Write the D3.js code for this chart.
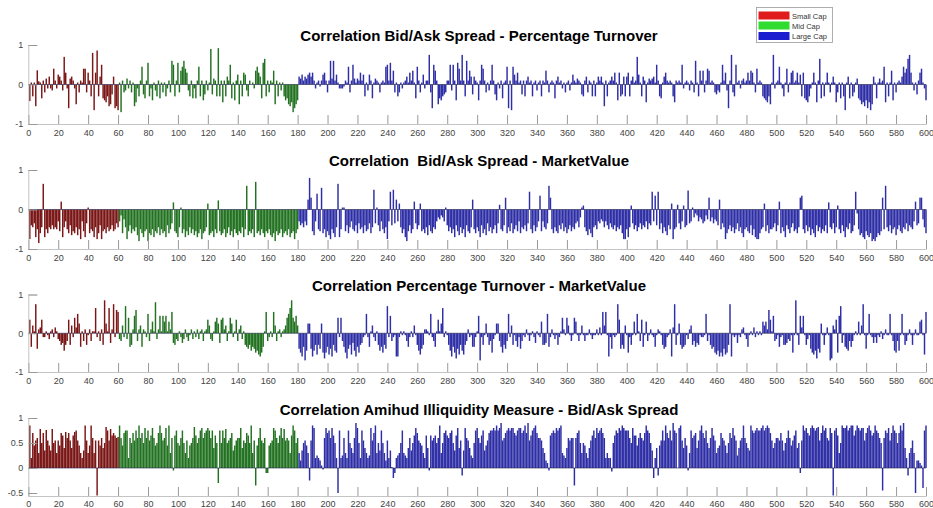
<!DOCTYPE html>
<html><head><meta charset="utf-8">
<script src="https://cdn.jsdelivr.net/npm/d3@7"></script>
<style>body{margin:0;background:#fff}svg{display:block}</style>
</head><body><svg id="c" width="933" height="508"></svg>
<script>
const groups = ["Small Cap","Mid Cap","Large Cap"];
const groupEnds = [60,180,600];
const xTicks = [0,20,40,60,80,100,120,140,160,180,200,220,240,260,280,300,320,340,360,380,400,420,440,460,480,500,520,540,560,580,600];
const titles = ["Correlation Bid/Ask Spread - Percentage Turnover","Correlation  Bid/Ask Spread - MarketValue","Correlation Percentage Turnover - MarketValue","Correlation Amihud Illiquidity Measure - Bid/Ask Spread"];
const yTicksA = [-1,0,1];
const yTicksB = [-0.5,0,0.5,1];

const bidAskTurnover = [
-.42,.05,-.3,.05,-.55,.36,.08,.05,-.35,.1,-.2,.15,-.1,.2,-.1,-.15,.4,.1,-.1,.25,
.2,.1,-.15,.7,.3,-.1,-.6,.15,.2,.1,-.1,-.5,.05,-.2,.1,.05,.4,.4,-.2,.3,
.1,-.3,.8,-.65,.3,.86,-.3,.2,.5,-.35,-.4,-.45,-.3,-.55,-.5,-.25,.2,-.6,-.55,-.65,
.05,-.7,.1,-.2,-.15,.15,-.1,.1,-.2,.05,-.55,-.45,-.1,-.3,.1,.45,-.25,-.35,.1,.55,
-.3,-.1,-.4,.05,-.15,-.3,.1,-.35,.05,-.2,.05,-.3,-.1,.1,-.2,.6,.5,-.3,.1,.55,
-.2,.35,.45,.6,.4,.3,-.15,-.3,.1,-.35,-.1,-.35,.1,.45,-.3,.1,-.4,-.25,.1,-.15,
.05,.9,-.25,.15,.1,-.3,.92,-.3,.1,-.45,.1,-.3,.2,.1,.5,-.35,.05,-.4,.1,.25,
-.5,.1,-.3,.3,.25,-.15,-.3,.1,0,.05,-.1,.35,.45,.3,.2,-.35,.55,.65,-.3,.1,
-.2,.1,.05,.35,-.5,.1,-.3,.05,-.15,.05,-.3,-.4,-.35,-.5,-.55,-.45,-.7,-.6,-.5,-.4,
.2,.15,.25,.1,.2,.15,.25,.3,.2,.3,.1,-.1,.05,.1,-.05,.1,.25,.3,.1,-.2,
.1,.6,.15,.6,.1,.25,.05,-.1,-.1,-.1,-.05,.1,.05,.45,-.2,.1,.5,.15,.05,.15,
.1,.3,.1,.25,-.3,.05,-.15,.25,.1,-.35,.05,.15,.1,.05,-.2,.05,.1,.05,.45,.5,
.1,.55,.1,.35,-.2,.05,-.3,-.2,.05,-.1,.05,.1,.2,.05,.3,.1,.35,.05,-.35,.45,
.1,-.2,.05,.25,-.1,.1,.1,.75,-.2,-.6,.5,.35,.1,-.5,-.35,-.4,-.3,-.25,-.2,.1,
.1,.5,-.15,.5,.1,-.4,.55,.4,.1,.75,.1,-.3,.6,.1,.35,.2,-.25,.2,.1,.05,
-.4,.1,.5,.4,.1,-.2,.05,-.15,.1,.5,.1,-.25,-.4,.05,-.1,.1,-.35,.05,.1,.45,
-.6,.1,-.65,.45,.25,.1,.3,.05,.1,-.25,.1,-.3,.1,.2,.05,.1,-.3,.05,.1,-.15,
.05,.1,-.3,.1,.05,.35,.1,-.2,.05,.1,.05,-.35,.1,.2,.05,.1,-.1,.05,-.2,.05,
.1,-.15,.05,.25,.1,.05,.15,.1,.05,-.25,-.3,.1,.2,-.2,.1,.05,-.3,.1,-.3,.05,
.2,.1,.2,.05,-.55,.1,-.3,.05,.1,.2,.1,.3,.05,-.4,.3,-.3,-.25,.2,-.3,.2,
.3,-.3,.1,.2,.05,.1,.7,.25,.05,-.3,.2,.1,-.45,.05,.15,.1,.15,.2,.05,.5,
.1,-.3,-.35,.05,.2,.3,.1,.05,.1,.05,-.3,-.45,.1,.05,.1,.05,.5,-.1,.05,.1,
.05,-.15,.1,.05,-.2,.6,.05,-.3,.35,.1,.35,-.2,.1,.4,.35,.05,.1,.05,-.2,-.25,
-.15,-.2,.05,.5,.1,.3,-.15,-.6,.1,.75,-.2,-.3,.5,.05,.1,-.1,.1,.15,.05,.1,
.3,.1,.35,.3,.05,-.2,.4,.05,.1,.05,-.3,-.35,-.4,-.45,-.3,-.5,.05,.75,-.1,.05,
.1,.45,.05,-.1,-.3,.05,.4,-.2,.05,.3,.35,.05,.1,.3,.05,.25,-.3,.3,-.35,-.4,
-.45,-.3,-.1,.05,.3,.05,-.45,.1,.65,-.35,.05,-.3,.05,.3,.05,-.2,.05,.2,.05,-.45,
-.2,.05,-.35,.05,-.3,-.65,.05,.2,-.35,.05,-.3,-.2,.05,.15,-.35,-.4,-.5,-.45,-.55,-.4,
-.6,-.45,-.65,-.5,.2,.05,-.35,.05,.15,.05,.1,.45,-.45,.05,-.3,.05,.35,-.4,.05,-.2,
.05,.1,.05,.2,.45,.3,.4,.65,.75,.3,.05,-.15,.05,-.25,.1,.3,.4,.05,-.1,-.4];

const bidAskMarketValue = [
-.75,-.4,-.45,-.35,-.7,-.5,-.85,-.6,-.45,.65,-.7,-.5,-.6,-.45,-.5,-.4,-.5,-.45,-.5,-.3,
-.55,.2,-.7,-.45,-.3,-.5,-.6,-.4,-.65,-.55,-.6,-.45,-.65,-.5,-.75,-.3,-.55,-.7,-.35,.05,
-.6,-.5,-.55,-.7,-.45,-.75,-.6,-.4,-.75,-.55,-.5,-.6,-.45,-.55,-.5,-.4,-.55,-.5,-.35,-.45,
-.3,-.15,-.6,-.25,-.45,-.75,-.55,-.4,-.6,-.5,-.55,-.45,-.65,-.8,-.5,-.6,-.7,-.55,-.5,-.8,
-.6,-.65,-.5,-.7,-.55,-.6,-.45,-.65,-.5,-.6,-.55,-.7,-.4,-.6,-.5,-.35,.18,-.55,-.6,-.7,
-.45,.05,-.6,-.5,-.7,-.55,-.65,-.45,-.6,-.5,-.65,-.55,-.7,-.6,-.5,-.75,-.6,-.55,-.45,.15,
-.65,-.6,-.55,-.7,-.5,-.6,.23,-.55,-.65,-.6,-.5,-.7,-.6,-.45,-.65,-.55,-.7,-.5,-.6,-.65,
-.55,-.6,-.45,-.7,-.5,.6,-.65,-.55,-.6,-.5,-.7,.7,-.6,-.55,-.65,-.5,-.6,-.7,-.55,-.6,
-.5,-.65,-.7,-.6,-.8,-.55,-.65,-.6,-.5,-.7,-.6,-.55,-.65,-.5,-.7,-.6,-.55,-.75,-.6,-.5,
-.3,-.4,-.35,-.45,-.3,-.4,.25,.8,.3,-.55,-.65,-.3,.4,-.5,-.55,.55,-.6,-.5,-.7,-.55,
-.65,-.75,-.5,-.6,-.7,-.45,.65,-.7,-.5,.05,.05,-.55,-.4,-.6,-.45,-.3,-.5,-.55,-.4,-.6,
-.35,-.5,-.45,-.6,-.4,-.55,-.5,-.35,-.6,-.45,.5,-.35,.05,-.4,-.55,-.3,-.5,-.6,-.45,-.75,
-.3,.45,-.4,.5,-.35,.25,-.3,.15,-.45,-.6,-.5,-.7,-.8,-.55,-.4,-.6,-.5,.2,-.35,-.5,
-.4,.15,-.55,-.5,-.6,-.45,-.65,-.4,-.55,-.6,-.45,-.5,-.3,-.2,-.25,-.15,-.2,-.3,.05,-.4,
-.55,-.45,-.6,-.5,-.7,-.4,-.55,-.65,-.45,-.6,-.5,-.7,-.4,-.55,-.6,-.45,.25,-.5,-.6,-.45,
-.55,-.7,-.4,-.6,-.5,-.65,-.35,-.55,-.45,-.6,-.5,-.4,-.6,-.35,.12,-.5,-.55,-.4,.3,-.6,
-.45,-.55,-.35,-.6,-.5,-.4,-.55,-.3,-.6,-.45,-.5,-.4,-.55,-.35,.45,-.5,-.6,-.4,-.55,-.45,
-.3,.35,-.55,-.3,-.45,-.5,-.35,.6,.3,-.5,-.6,-.45,-.55,-.6,-.4,-.5,-.35,-.55,-.45,-.6,
-.5,-.4,-.55,-.45,-.5,-.35,-.3,-.45,-.2,.05,.1,-.45,-.55,-.65,-.5,-.6,-.7,-.45,-.4,-.5,
-.3,-.35,-.25,-.3,-.45,-.3,-.4,-.5,-.35,-.45,-.5,-.4,-.55,-.45,-.5,-.4,-.6,-.75,-.75,-.5,
-.7,-.45,.1,-.35,-.5,-.4,-.55,-.45,-.35,-.5,-.4,-.45,-.3,-.5,-.35,-.4,.45,-.3,.35,-.4,
.45,-.5,-.35,-.6,-.45,-.55,-.65,-.4,-.5,.15,-.75,-.5,-.45,.12,-.35,-.5,-.3,.1,-.45,-.4,
.48,-.35,-.3,.05,-.2,-.1,-.15,-.3,-.2,-.25,-.35,-.3,-.15,-.25,.3,-.3,-.2,-.35,-.25,-.3,
-.4,.25,-.5,-.35,-.45,-.75,-.6,-.5,-.4,-.55,-.45,-.6,-.5,-.35,-.55,-.45,-.6,-.7,-.5,-.45,
-.55,-.6,-.4,-.65,-.5,-.7,-.75,-.75,-.6,-.5,-.45,.15,-.55,-.4,-.6,-.5,-.5,-.45,-.35,-.55,
-.4,.2,-.6,-.45,-.55,-.7,-.4,-.5,-.6,-.45,-.35,-.55,-.5,-.6,-.45,.3,.35,-.5,-.6,-.4,
-.55,-.45,-.65,-.5,-.6,-.7,-.4,-.55,-.45,-.6,-.5,-.55,-.4,-.6,.18,-.45,-.5,-.35,-.6,-.45,
.1,-.5,-.6,-.4,-.55,-.7,-.45,-.5,-.35,-.6,-.55,-.4,.45,-.1,-.5,-.65,-.6,-.7,-.75,-.55,
-.65,-.7,-.6,-.8,-.75,-.8,-.7,-.6,-.65,-.55,.3,-.5,.6,-.45,-.55,-.4,-.6,-.5,-.45,-.65,
-.5,-.4,-.55,-.6,-.45,-.5,-.35,-.55,-.4,-.45,-.5,-.3,.2,-.4,-.35,.3,.3,-.25,-.45,-.6];

const turnoverMarketValue = [
.35,-.35,.2,.05,.75,-.4,.1,.15,.35,-.1,-.1,.05,-.05,-.15,.05,.1,-.1,.15,.05,-.15,
-.2,-.3,-.25,-.45,-.3,-.2,.35,-.3,.2,-.1,.4,.15,.5,.25,-.35,.05,-.2,.1,-.3,-.05,
.1,-.2,.05,.05,.65,-.1,.05,-.2,.1,-.3,.85,.25,.05,.65,-.25,.1,.75,-.1,.6,.55,
-.15,-.2,.2,-.1,.7,-.15,.4,-.35,-.3,.1,.45,.6,-.2,.1,.2,-.35,.1,.05,-.1,.5,
-.2,.1,.3,.05,.8,-.15,.1,.45,.05,.45,.3,.45,.05,.3,.1,.55,-.25,-.3,-.15,-.2,
.05,-.1,-.25,-.15,.1,-.1,-.2,-.05,.1,-.15,.05,-.1,.1,-.15,.05,.1,-.2,.05,.1,.35,
.2,-.15,-.2,.05,.3,.4,.25,-.25,.35,.4,.1,.2,-.2,.05,.4,.25,-.1,.05,.35,-.2,
.1,.2,-.15,.05,-.3,-.35,-.4,-.3,-.45,-.35,-.4,-.5,-.45,-.55,-.6,-.5,-.35,.05,.55,-.2,
-.1,.05,-.1,.55,.2,-.2,.05,.1,-.1,.05,.1,.2,.4,.5,.65,.85,.4,.3,.45,.2,
-.4,-.5,-.6,-.35,-.7,-.45,.25,.25,-.4,-.6,-.45,-.3,-.55,-.3,-.4,.25,-.5,-.65,-.5,-.35,
-.55,-.4,-.6,-.3,-.45,-.5,.4,-.1,.4,-.2,-.35,-.5,-.65,-.4,-.3,-.55,-.25,-.45,-.6,-.35,
-.5,-.3,-.25,-.1,-.05,.5,-.1,-.35,.05,.2,-.1,-.2,.05,-.3,-.45,-.35,-.5,-.3,-.4,.7,
-.1,.45,-.2,-.1,-.05,-.6,-.6,-.1,.05,-.05,.05,-.05,-.2,-.35,-.1,.05,-.1,.2,-.05,-.3,
-.45,-.55,-.4,-.3,.1,.1,.05,-.05,.5,-.1,-.2,-.35,.05,.35,.05,.25,.65,-.1,.05,-.05,
-.3,-.45,-.6,-.35,-.5,-.65,-.4,-.55,-.3,-.45,-.55,-.3,-.2,.1,-.1,-.05,-.35,-.35,-.1,.05,
.45,-.7,-.1,-.3,-.05,.25,-.1,-.3,-.2,-.5,-.15,-.05,.25,.25,-.2,-.35,-.5,-.3,-.4,-.2,
.5,-.1,.2,-.3,-.05,-.2,-.35,-.1,-.4,-.2,-.05,-.1,.1,-.05,-.2,-.05,.05,-.1,-.25,.05,
-.05,-.1,.3,-.3,-.3,-.25,.5,-.35,-.1,.1,-.05,-.15,-.05,-.3,-.1,.05,.4,.1,-.05,.4,
.2,-.05,-.2,-.05,.4,.3,-.05,-.2,-.05,.2,-.05,-.2,-.05,-.05,.1,-.05,-.15,-.05,-.05,.1,
-.05,.15,-.05,.55,.2,.55,-.05,-.6,-.1,-.4,-.05,-.1,-.05,.75,.35,-.4,-.3,-.4,.2,-.05,
-.5,-.1,-.3,-.05,.3,-.05,.5,.05,-.2,.35,-.35,-.05,.3,-.2,-.05,.1,-.05,-.1,-.35,-.05,
.1,.05,-.05,-.3,-.4,-.35,-.1,-.05,.1,-.6,.15,.75,-.3,-.05,.25,-.3,-.4,-.35,-.3,-.05,
-.15,.1,.2,-.3,-.2,-.35,-.25,-.3,-.05,-.1,-.1,-.05,.5,-.2,-.05,-.3,-.4,-.35,-.5,-.55,
-.45,-.6,-.5,-.6,-.4,-.55,-.5,-.3,.75,-.6,-.05,-.1,-.05,-.25,-.05,-.1,.1,.15,-.05,-.15,
-.35,-.05,.05,-.05,.15,-.1,.05,-.05,.05,-.05,.3,.2,.3,.1,.6,.35,.05,.45,-.2,-.15,
-.05,-.35,-.1,-.05,-.3,-.3,-.25,-.15,-.2,-.05,-.5,-.05,.85,-.05,-.3,.45,.15,.45,-.05,-.3,
-.15,-.05,-.4,-.5,-.55,-.45,-.65,-.4,-.5,.25,-.05,-.3,-.05,.15,-.05,-.7,-.65,.2,.1,.35,
-.5,.45,.7,-.25,-.05,-.35,-.4,-.45,-.2,-.35,-.2,-.05,.05,-.05,.3,-.05,.2,.75,-.05,-.4,
-.05,.5,-.05,-.1,-.25,-.1,-.25,-.05,-.1,.05,-.15,-.05,.1,-.05,-.05,.5,-.05,-.2,-.45,-.5,
-.2,-.45,-.05,.5,-.05,-.3,-.2,-.05,.1,-.05,-.3,-.05,.1,-.05,-.05,.3,.35,-.05,-.55,.55];

const amihudBidAsk = [
.85,.2,.7,.45,.55,.6,.3,.78,.5,.7,.35,.76,.55,.45,.35,.78,.5,.55,.3,.55,
.45,.7,.65,.4,.72,.6,.7,.55,.4,.65,.72,.75,.55,.45,.3,.2,.35,.85,.55,.3,
.45,.85,.6,.3,.55,-.55,.55,.45,.6,.4,.5,.82,.75,.55,.78,.65,.7,.65,.6,.62,
.85,.6,.45,.7,.75,.75,.2,.6,.5,.7,.55,.75,.6,.85,.6,.7,.5,.8,.6,.75,
.55,.65,.8,.6,.45,.5,.7,.85,.7,.55,.6,.8,.45,.85,.3,.6,-.05,.65,.75,.5,
.45,.6,.75,.5,.3,.55,.2,.45,.5,.6,.82,.65,.5,.6,.75,.8,.6,.7,.75,.8,
.75,.6,.75,.4,.65,.5,-.3,.75,.5,.75,.6,.78,.5,.55,.6,.7,.35,.45,.55,.6,
.6,.8,.4,.55,.5,.7,.65,.5,.85,.3,.55,-.35,.45,.6,.8,.55,.5,.6,-.1,-.1,
.45,.5,.55,.8,.75,.6,.5,.65,.8,.6,.78,.55,.6,.55,.3,.65,.85,.75,.5,.6,
.3,.15,.35,.5,.55,.45,.3,-.25,.55,.85,.8,.2,.25,.2,.15,.05,-.03,.6,.8,.7,
.75,.6,.8,.65,.5,.2,-.5,.75,.2,.25,.6,.3,.2,.75,.5,.4,.3,.6,.9,.8,
.5,.2,.75,.55,.4,.3,.2,.25,.8,.55,.7,.85,.3,.5,.35,.75,.5,.3,.15,.55,
.2,.35,.02,-.2,-.1,.2,.25,.3,.5,.75,.3,.25,.2,.4,.6,.35,.5,.65,.8,.7,
.55,.5,.45,.3,.2,.65,.4,-.05,.65,.55,.6,.65,.5,.6,.85,.3,.5,.7,.75,.65,
.6,.7,.75,.5,.35,.65,.8,.4,.55,-.15,.35,.8,.6,.55,.4,.25,.2,.5,.75,.8,
.6,.5,.65,.75,.35,.45,.55,.7,.75,.75,.8,.75,.85,.75,.8,.9,.55,.6,.7,.75,
.8,.75,.8,.8,.7,.65,.75,.8,.8,.7,.75,.85,.7,.9,.55,.65,.75,.8,.85,.7,
.6,.6,.55,.4,.3,.15,.1,-.05,.65,.7,.75,.7,.8,.75,.8,.85,.3,.25,.2,.4,
.6,.55,.6,.6,-.35,.6,.7,.75,.5,.3,.5,.45,.3,.2,.4,.55,.65,.75,.6,.8,
.7,.75,.8,.7,.6,.2,.3,.2,.2,-.07,.5,.65,.75,.7,.8,.75,.85,.8,.75,.75,
.75,.6,.5,.8,.65,.65,.45,.6,.7,.6,.55,.7,.85,.75,.7,.5,.35,-.2,.2,.4,
-.15,.45,.55,.75,.55,.85,.7,.6,.75,.55,.9,.75,.7,0,.8,.85,.55,.4,.6,.45,
-.05,.3,.75,.6,.65,.7,.4,.55,.75,.85,.7,.6,.75,.5,.4,.6,.8,.65,.55,.3,
.4,.45,.7,.6,.55,.45,.3,.5,.7,.6,.8,.65,.55,.25,.4,.55,.6,.85,.6,.5,
.4,.35,.85,.75,.7,.75,.8,.75,.75,.8,.85,.75,.8,.85,.8,.7,.55,.4,.5,.6,
.6,.55,.7,.55,.35,.5,.6,.75,.6,.45,.55,.65,.75,.4,.5,-.1,.55,.85,.75,.8,
.7,.65,.8,.85,.8,.75,.8,.82,.55,.7,.85,.75,.8,.6,.55,.8,.7,-.55,.75,.8,
.65,.3,.5,.85,.8,.8,.85,.75,.8,.85,.85,.65,.75,.85,.8,.75,.8,.8,.55,.7,
.8,.85,.75,.65,.7,.85,.75,.7,.6,.5,-.45,.6,.75,.7,.8,.55,.7,.85,.75,.7,
.5,.7,.85,.75,.9,.4,.2,-.15,.3,.4,.55,.3,-.5,.15,.15,.1,.05,-.4,.75,.85];

const barColors = ["#7a1616","#227222","#2e2ea6"];
const legendColors = ["#e01b1b","#2fdc2f","#1b1bd0"];

const panels = [
  {title: titles[0], values: bidAskTurnover, domain:[-1,1], ticks:yTicksA, top:45, bottom:124, titleY:40.5, pad:6},
  {title: titles[1], values: bidAskMarketValue, domain:[-1,1], ticks:yTicksA, top:170, bottom:249, titleY:166, pad:6},
  {title: titles[2], values: turnoverMarketValue, domain:[-1,1], ticks:yTicksA, top:294.5, bottom:372, titleY:291, pad:6},
  {title: titles[3], values: amihudBidAsk, domain:[-0.56,1], ticks:yTicksB, top:418, bottom:496, titleY:414.5, pad:4.5}
];

const svg = d3.select("#c");
const x = d3.scaleLinear().domain([0,600]).range([28.3,926]);
const bw = 1.45;
const groupOf = i => groupEnds.findIndex(e => i <= e);
const fontFam = "'Liberation Sans', Arial, Helvetica, sans-serif";

panels.forEach(p => {
  const y = d3.scaleLinear().domain(p.domain).range([p.bottom, p.top]);
  const g = svg.append("g");
  g.selectAll("rect.bar").data(p.values).enter().append("rect")
    .attr("x", (d,i) => x(i+1) - bw/2)
    .attr("width", bw)
    .attr("y", d => y(Math.max(0,d)))
    .attr("height", d => Math.abs(y(Math.max(Math.min(d,0), p.domain[0])) - y(Math.max(0,d))))
    .attr("fill", (d,i) => barColors[groupOf(i+1)]);
  g.append("line").attr("x1", x(0)).attr("x2", x(600)).attr("y1", y(0)).attr("y2", y(0))
    .attr("stroke", "#22224a").attr("stroke-width", 0.7).attr("opacity",0.85);
  const xa = d3.axisBottom(x).tickValues(xTicks).tickSize(-9).tickPadding(p.pad).tickFormat(d3.format("d"));
  const xg = g.append("g").attr("transform", `translate(0,${p.bottom})`).call(xa);
  xg.select(".domain").attr("stroke", "#c4c4c4");
  xg.selectAll(".tick line").attr("stroke", "#999");
  xg.selectAll("text").attr("fill", "#444").attr("font-size", 9).attr("font-family", fontFam);
  const ya = d3.axisLeft(y).tickValues(p.ticks).tickSize(-9).tickPadding(5).tickFormat(d => String(d));
  const yg = g.append("g").attr("transform", `translate(${x(0)},0)`).call(ya);
  yg.select(".domain").attr("stroke", "#c4c4c4");
  yg.selectAll(".tick line").attr("stroke", "#999");
  yg.selectAll("text").attr("fill", "#444").attr("font-size", 9).attr("font-family", fontFam);
  svg.append("text").attr("x", 479).attr("y", p.titleY).attr("text-anchor", "middle")
    .attr("font-family", fontFam).attr("font-weight", "bold").attr("font-size", 15)
    .attr("fill", "#000").style("white-space","pre").text(p.title);
});

const lg = svg.append("g");
lg.append("rect").attr("x", 756.5).attr("y", 7.5).attr("width", 76).attr("height", 35)
  .attr("fill", "#fff").attr("stroke", "#999").attr("stroke-width", 0.8);
const rowsY = [11.5, 21.5, 32];
groups.forEach((name, k) => {
  lg.append("rect").attr("x", 758.5).attr("y", rowsY[k]).attr("width", 31).attr("height", 8)
    .attr("fill", legendColors[k]);
  lg.append("text").attr("x", 792).attr("y", rowsY[k] + 7).attr("font-size", 7.5)
    .attr("font-family", fontFam).attr("fill", "#333").text(name);
});
</script></body></html>
